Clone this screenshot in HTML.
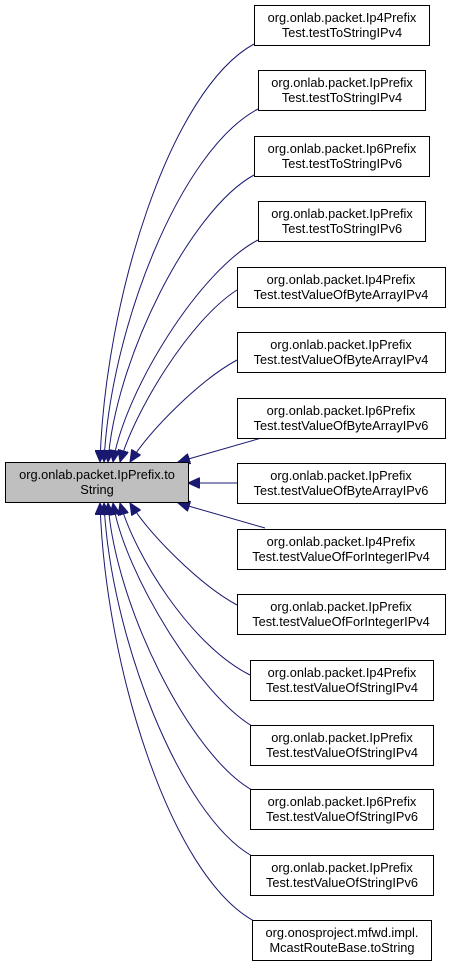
<!DOCTYPE html>
<html><head><meta charset="utf-8"><style>
html,body{margin:0;padding:0;background:#fff;}
svg text{font-family:"Liberation Sans",sans-serif;font-size:12.8px;fill:#000;}
</style></head><body>
<svg width="451" height="965" viewBox="0 0 451 965" xmlns="http://www.w3.org/2000/svg">
<defs>
<marker id="a" markerWidth="13" markerHeight="11" refX="12" refY="5.5" orient="auto" markerUnits="userSpaceOnUse">
<path d="M0,0 L12,5.5 L0,11 Z" fill="#191970" stroke="#191970"/>
</marker>
</defs>
<g fill="none" stroke="#191970" stroke-width="1" marker-end="url(#a)">
<path d="M254,44 C170,90 105,300 100,462"/>
<path d="M258,109 C180,150 110,330 104,462"/>
<path d="M254,175 C190,210 115,360 108,462"/>
<path d="M258,240 C200,270 125,390 113,462"/>
<path d="M237,290 C190,320 135,410 120,462"/>
<path d="M237,360 C200,380 150,430 130,462"/>
<path d="M265,437 L178,462"/>
<path d="M237,483 L188,483"/>
<path d="M265,528 L178,503"/>
<path d="M237,605 C200,585 150,535 130,503"/>
<path d="M250,675 C190,645 135,555 120,503"/>
<path d="M252,726 C200,695 125,575 113,503"/>
<path d="M252,790 C190,755 115,605 108,503"/>
<path d="M252,856 C180,815 110,635 104,503"/>
<path d="M254,921 C170,875 105,665 100,503"/>
</g>
<g stroke="#000" stroke-width="1">
<rect x="5.5" y="462.5" width="183" height="40" fill="#bfbfbf"/>
<g fill="#fff">
<rect x="254.5" y="5.5" width="175" height="40"/>
<rect x="258.5" y="70.5" width="167" height="40"/>
<rect x="254.5" y="136.5" width="175" height="40"/>
<rect x="258.5" y="201.5" width="167" height="40"/>
<rect x="237.5" y="267.5" width="208" height="40"/>
<rect x="237.5" y="332.5" width="208" height="40"/>
<rect x="237.5" y="398.5" width="208" height="40"/>
<rect x="237.5" y="463.5" width="208" height="40"/>
<rect x="237.5" y="529.5" width="208" height="40"/>
<rect x="237.5" y="594.5" width="208" height="40"/>
<rect x="250.5" y="660.5" width="183" height="40"/>
<rect x="250.5" y="725.5" width="183" height="40"/>
<rect x="250.5" y="789.5" width="183" height="40"/>
<rect x="250.5" y="855.5" width="183" height="40"/>
<rect x="252.5" y="920.5" width="179" height="40"/>
</g>
</g>
<g text-anchor="middle">
<text x="97" y="479">org.onlab.packet.IpPrefix.to</text><text x="97" y="494">String</text>
<text x="342" y="22">org.onlab.packet.Ip4Prefix</text><text x="342" y="37">Test.testToStringIPv4</text>
<text x="342" y="87">org.onlab.packet.IpPrefix</text><text x="342" y="102">Test.testToStringIPv4</text>
<text x="342" y="153">org.onlab.packet.Ip6Prefix</text><text x="342" y="168">Test.testToStringIPv6</text>
<text x="342" y="218">org.onlab.packet.IpPrefix</text><text x="342" y="233">Test.testToStringIPv6</text>
<text x="341" y="284">org.onlab.packet.Ip4Prefix</text><text x="341" y="299">Test.testValueOfByteArrayIPv4</text>
<text x="341" y="349">org.onlab.packet.IpPrefix</text><text x="341" y="364">Test.testValueOfByteArrayIPv4</text>
<text x="341" y="415">org.onlab.packet.Ip6Prefix</text><text x="341" y="430">Test.testValueOfByteArrayIPv6</text>
<text x="341" y="480">org.onlab.packet.IpPrefix</text><text x="341" y="495">Test.testValueOfByteArrayIPv6</text>
<text x="341" y="546">org.onlab.packet.Ip4Prefix</text><text x="341" y="561">Test.testValueOfForIntegerIPv4</text>
<text x="341" y="611">org.onlab.packet.IpPrefix</text><text x="341" y="626">Test.testValueOfForIntegerIPv4</text>
<text x="342" y="677">org.onlab.packet.Ip4Prefix</text><text x="342" y="692">Test.testValueOfStringIPv4</text>
<text x="342" y="742">org.onlab.packet.IpPrefix</text><text x="342" y="757">Test.testValueOfStringIPv4</text>
<text x="342" y="806">org.onlab.packet.Ip6Prefix</text><text x="342" y="821">Test.testValueOfStringIPv6</text>
<text x="342" y="872">org.onlab.packet.IpPrefix</text><text x="342" y="887">Test.testValueOfStringIPv6</text>
<text x="342" y="937">org.onosproject.mfwd.impl.</text><text x="342" y="952">McastRouteBase.toString</text>
</g>
</svg>
</body></html>
